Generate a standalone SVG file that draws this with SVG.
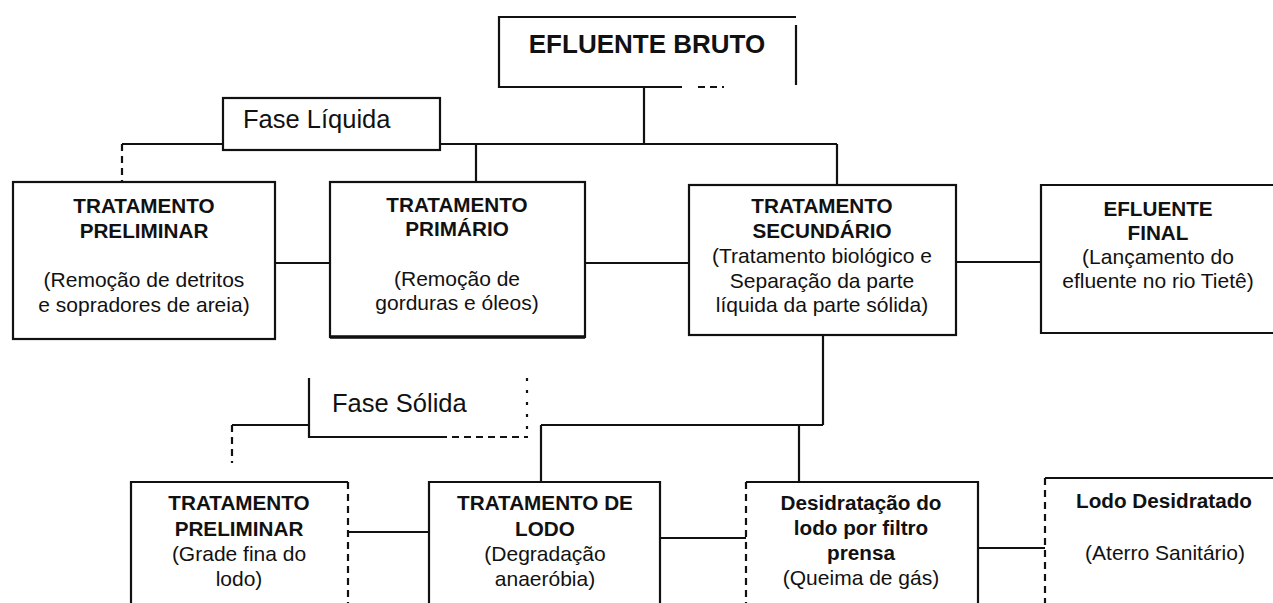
<svg xmlns="http://www.w3.org/2000/svg" width="1273" height="603" viewBox="0 0 1273 603">
<style>
.ln{fill:none;stroke:#111;stroke-width:2.2}
.dl{fill:none;stroke:#111;stroke-width:2.2;stroke-dasharray:7 5}
.b{font-family:"Liberation Sans",Arial,sans-serif;font-weight:bold;font-size:20.7px;fill:#111;text-anchor:middle}
.r{font-family:"Liberation Sans",Arial,sans-serif;font-size:21px;fill:#111;text-anchor:middle}
</style>
<rect width="1273" height="603" fill="#fff"/>
<g id="connectors">
<path class="ln" d="M644 87V144M122 144H223M440 144H837M476 144V182M837 144V185"/>
<path class="dl" d="M122 144V183"/>
<path class="ln" d="M275 263H330M585 263H689M956 262H1041"/>
<path class="ln" d="M823 335V425M541 425H823M541 425V482M799 425V482"/>
<path class="ln" d="M232 425H309"/>
<path class="dl" d="M232 425V463"/>
<path class="ln" d="M348 532H429M660 538H746M978 548H1045"/>
</g>
<g id="efluente-bruto">
<path class="ln" d="M796 17H499V87H682M796 25V85"/>
<path class="dl" d="M698 87H724"/>
<text x="647" y="53" class="b" style="font-size:26px">EFLUENTE BRUTO</text>
</g>
<g id="fase-liquida">
<rect class="ln" x="223" y="98" width="217" height="52"/>
<text x="243" y="128" class="r" style="font-size:25.5px;text-anchor:start">Fase Líquida</text>
</g>
<g id="trat-preliminar">
<rect class="ln" x="13" y="182" width="262" height="157"/>
<text x="144" y="213" class="b">TRATAMENTO</text>
<text x="144" y="238" class="b">PRELIMINAR</text>
<text x="144" y="287" class="r">(Remoção de detritos</text>
<text x="144" y="312" class="r">e sopradores de areia)</text>
</g>
<g id="trat-primario">
<rect class="ln" x="330" y="182" width="255" height="155"/>
<path class="ln" d="M330 337H585" style="stroke-width:3.5"/>
<text x="457" y="212" class="b">TRATAMENTO</text>
<text x="457" y="236" class="b">PRIMÁRIO</text>
<text x="457" y="286" class="r">(Remoção de</text>
<text x="457" y="310" class="r">gorduras e óleos)</text>
</g>
<g id="trat-secundario">
<rect class="ln" x="689" y="185" width="267" height="150"/>
<text x="822" y="213" class="b">TRATAMENTO</text>
<text x="822" y="238" class="b">SECUNDÁRIO</text>
<text x="822" y="263" class="r">(Tratamento biológico e</text>
<text x="822" y="288" class="r">Separação da parte</text>
<text x="822" y="312" class="r">líquida da parte sólida)</text>
</g>
<g id="efluente-final">
<path class="ln" d="M1273 185H1041V333H1273"/>
<text x="1158" y="216" class="b">EFLUENTE</text>
<text x="1158" y="240" class="b">FINAL</text>
<text x="1158" y="264" class="r">(Lançamento do</text>
<text x="1158" y="288" class="r">efluente no rio Tietê)</text>
</g>
<g id="fase-solida">
<path class="ln" d="M309 378V437H440"/>
<path class="dl" d="M440 437H528"/>
<path class="dl" d="M527 378V430" style="stroke-dasharray:3 9"/>
<text x="332" y="412" class="r" style="font-size:25.5px;text-anchor:start">Fase Sólida</text>
</g>
<g id="trat-preliminar-lodo">
<path class="ln" d="M131 603V482H348"/>
<path class="dl" d="M348 482V603"/>
<text x="239" y="510" class="b">TRATAMENTO</text>
<text x="239" y="536" class="b">PRELIMINAR</text>
<text x="239" y="561" class="r">(Grade fina do</text>
<text x="239" y="586" class="r">lodo)</text>
</g>
<g id="trat-lodo">
<path class="ln" d="M429 603V482H660V603"/>
<text x="545" y="510" class="b">TRATAMENTO DE</text>
<text x="545" y="536" class="b">LODO</text>
<text x="545" y="561" class="r">(Degradação</text>
<text x="545" y="586" class="r">anaeróbia)</text>
</g>
<g id="desidratacao">
<path class="ln" d="M746 482H978V603"/>
<path class="dl" d="M746 482V603"/>
<text x="861" y="510" class="b">Desidratação do</text>
<text x="861" y="535" class="b">lodo por filtro</text>
<text x="861" y="560" class="b">prensa</text>
<text x="861" y="585" class="r">(Queima de gás)</text>
</g>
<g id="lodo-desidratado">
<path class="ln" d="M1045 478H1273"/>
<path class="dl" d="M1045 478V603"/>
<text x="1164" y="508" class="b">Lodo Desidratado</text>
<text x="1165" y="560" class="r">(Aterro Sanitário)</text>
</g>
</svg>
